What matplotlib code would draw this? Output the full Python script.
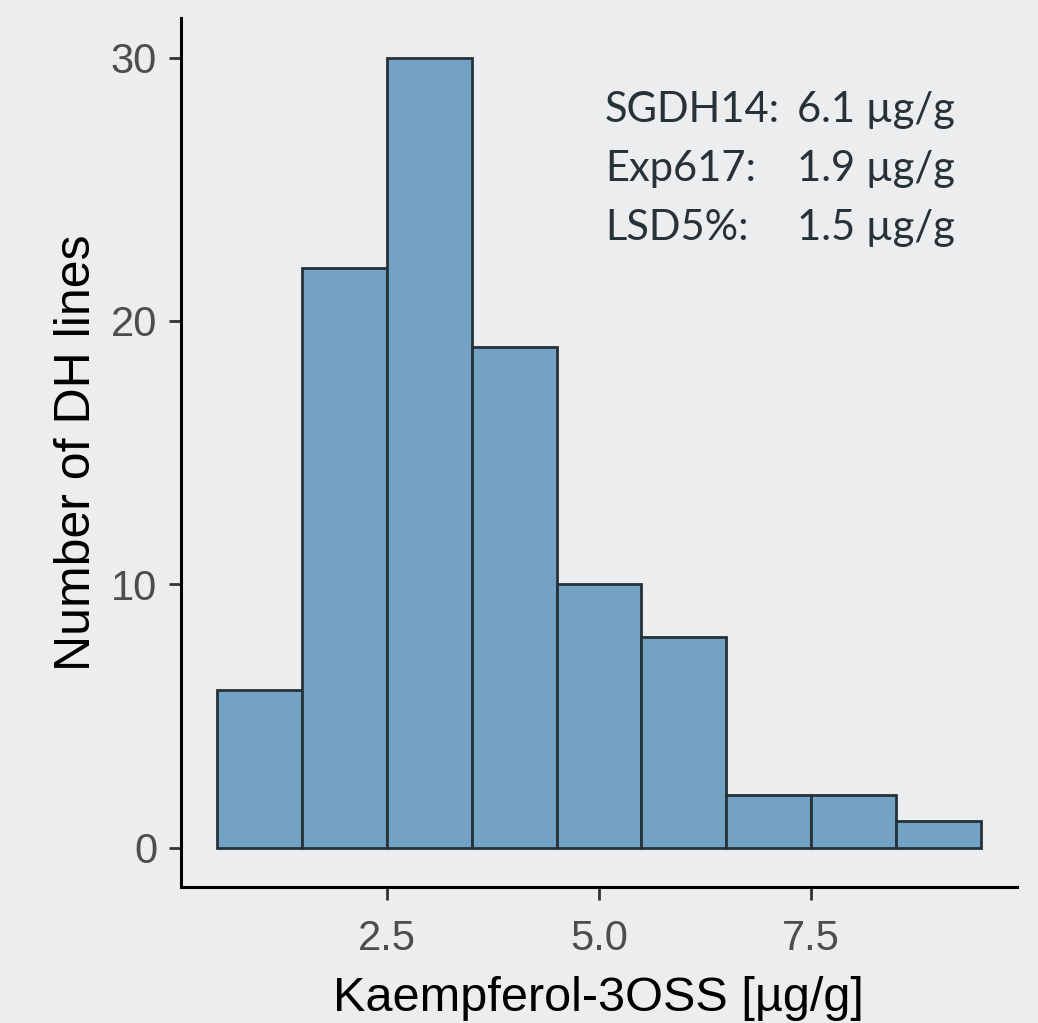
import matplotlib.pyplot as plt

# histogram bins (left edges) and counts
bin_left = [0.5, 1.5, 2.5, 3.5, 4.5, 5.5, 6.5, 7.5, 8.5]
counts = [6, 22, 30, 19, 10, 8, 2, 2, 1]
bin_width = 1.0

x_ticks = [2.5, 5.0, 7.5]
y_ticks = [0, 10, 20, 30]

info_names = ['SGDH14:', 'Exp617:', 'LSD5%:']
info_values = ['6.1 µg/g', '1.9 µg/g', '1.5 µg/g']

bg = '#ECEDEF'
fig = plt.figure(figsize=(10.38, 10.23), dpi=100, facecolor=bg)
ax = fig.add_axes([0.174, 0.1326, 0.806, 0.8498], facecolor=bg)

ax.bar(bin_left, counts, width=bin_width, align='edge', color='#73A2C6',
       edgecolor='#263238', linewidth=2.0)

ax.set_xlim(0.07, 9.93)
ax.set_ylim(-1.5, 31.5)
ax.set_xticks(x_ticks)
ax.set_xticklabels([f'{v:.1f}' for v in x_ticks])
ax.set_yticks(y_ticks)

for side in ['top', 'right']:
    ax.spines[side].set_visible(False)
for side in ['left', 'bottom']:
    ax.spines[side].set_linewidth(2.2)
    ax.spines[side].set_color('black')

ax.tick_params(axis='both', length=9, width=2.0, color='#333333',
               labelsize=30, labelcolor='#4D4D4D')
ax.tick_params(axis='x', pad=14)
ax.tick_params(axis='y', pad=8)
for lbl in ax.get_xticklabels() + ax.get_yticklabels():
    lbl.set_family('Liberation Sans')

ax.set_xlabel('Kaempferol-3OSS [µg/g]', fontsize=35, family='Liberation Sans',
              color='black', labelpad=12)
ax.set_ylabel('Number of DH lines', fontsize=36, family='Liberation Sans',
              color='black', labelpad=8)

for i, (name, val) in enumerate(zip(info_names, info_values)):
    y = 110 + i * 59
    fig.text(605 / 1038, 1 - y / 1023, name, fontsize=30, family='Lato',
             color='#263238', va='center', ha='left')
    fig.text(797 / 1038, 1 - y / 1023, val, fontsize=30, family='Lato',
             color='#263238', va='center', ha='left')

fig.savefig('out.png', dpi=100, facecolor=bg)
